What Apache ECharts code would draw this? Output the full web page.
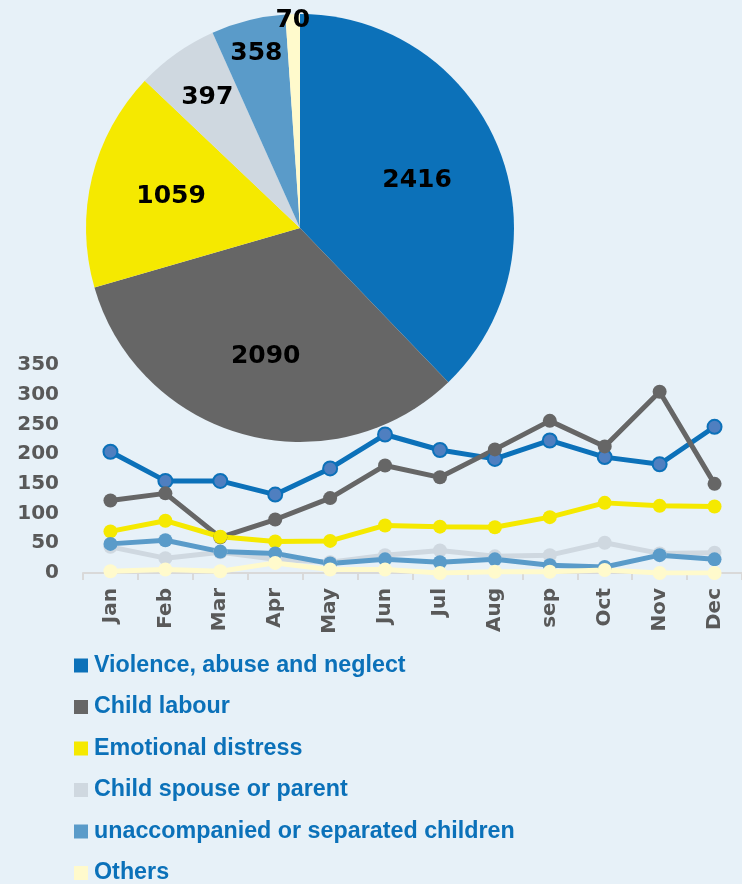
<!DOCTYPE html>
<html>
<head>
<meta charset="utf-8">
<script src="https://cdn.jsdelivr.net/npm/echarts@6/dist/echarts.min.js"></script>
<style>
html,body{margin:0;padding:0;background:#E7F1F8;}
#chart{width:742px;height:884px;}
</style>
</head>
<body>
<div id="chart"></div>
<script>
// ---- data ----
const categoryNames = ['Violence, abuse and neglect','Child labour','Emotional distress','Child spouse or parent','unaccompanied or separated children','Others'];
const pieTotals = [2416, 2090, 1059, 397, 358, 70];
const months = ['Jan','Feb','Mar','Apr','May','Jun','Jul','Aug','sep','Oct','Nov','Dec'];
const violence  = [204,155,155,132,176,233,207,192,223,195,183,246];
const labour    = [122,134,60,90,126,181,161,208,256,213,305,150];
const emotional = [70,88,61,53,54,80,78,77,94,118,113,112];
const spouse    = [44,25,35,23,18,30,38,28,30,51,33,34];
const unaccomp  = [49,55,36,33,16,23,18,23,13,10,30,23];
const others    = [3,6,3,17,6,6,0,2,2,5,0,0];
const yTicks = [0,50,100,150,200,250,300,350];

// ---- styles ----
const colors = ['#0C71B9','#666666','#F5E900','#CFD8E0','#5A9BC9','#FFFACC'];
const markerFill = ['#4F7FC0','#666666','#F5E900','#CFD8E0','#5A9BC9','#FFFACC'];
const pieCx = 300, pieCy = 228, pieR = 214;
const labelRadiusFrac = [0.59, 0.62, 0.62, 0.75, 0.84, 0.97];

const total = pieTotals.reduce((a,b)=>a+b,0);
const midAngles = [];
let acc = 0;
pieTotals.forEach(v => { const f = v/total; midAngles.push((acc + f/2) * 2 * Math.PI); acc += f; });

const lineSeriesData = [violence, labour, emotional, spouse, unaccomp, others];

const chart = echarts.init(document.getElementById('chart'), null, {renderer:'canvas'});
const series = [{
  type:'pie', name:'Totals',
  center:[pieCx, pieCy], radius:[0, pieR],
  startAngle:90, clockwise:true,
  avoidLabelOverlap:false,
  silent:true,
  z:1,
  label:{show:true, position:'inside', color:'#000', fontFamily:'DejaVu Sans', fontWeight:'bold', fontSize:25, formatter:'{c}'},
  labelLine:{show:false},
  labelLayout: function(p){
    const i = p.dataIndex, a = midAngles[i], rr = labelRadiusFrac[i]*pieR;
    return {x: pieCx + Math.sin(a)*rr, y: pieCy - Math.cos(a)*rr, align:'center', verticalAlign:'middle'};
  },
  itemStyle:{borderWidth:0},
  data: categoryNames.map((n,i)=>({name:n, value:pieTotals[i], itemStyle:{color:colors[i]}}))
}];
lineSeriesData.forEach((d,i)=>{
  series.push({
    type:'line', name:categoryNames[i], data:d,
    z:3, silent:true,
    symbol:'circle', symbolSize:14, showAllSymbol:true,
    lineStyle:{color:colors[i], width:5},
    itemStyle:{color:markerFill[i], borderColor:colors[i], borderWidth: i===0 ? 2 : 0},
    emphasis:{disabled:true}
  });
});

chart.setOption({
  animation:false,
  backgroundColor:'#E7F1F8',
  grid:{left:83, right:-24, top:365, bottom:311, containLabel:false},
  xAxis:{
    type:'category', data:months, boundaryGap:true,
    axisLine:{show:true, lineStyle:{color:'#D9D9D9', width:2}},
    axisTick:{show:true, length:7, lineStyle:{color:'#D9D9D9', width:2}},
    axisLabel:{rotate:90, margin:15, color:'#595959', fontFamily:'DejaVu Sans', fontWeight:'bold', fontSize:20, interval:0},
    splitLine:{show:false}
  },
  yAxis:{
    type:'value', min:yTicks[0], max:yTicks[yTicks.length-1], interval:yTicks[1]-yTicks[0],
    axisLine:{show:false}, axisTick:{show:false}, splitLine:{show:false},
    axisLabel:{margin:24, color:'#595959', fontFamily:'DejaVu Sans', fontWeight:'bold', fontSize:20}
  },
  legend:{
    orient:'vertical', left:74, top:654, height:400, padding:0,
    icon:'rect', itemWidth:14, itemHeight:14, itemGap:18.5,
    selectedMode:false,
    textStyle:{color:'#0B71B9', fontFamily:'Liberation Sans', fontWeight:'bold', fontSize:23.3, padding:[0,0,0,1]},
    data: categoryNames.map((n,i)=>({name:n, itemStyle:{color:colors[i], borderWidth:0}}))
  },
  series: series
});
</script>
</body>
</html>
